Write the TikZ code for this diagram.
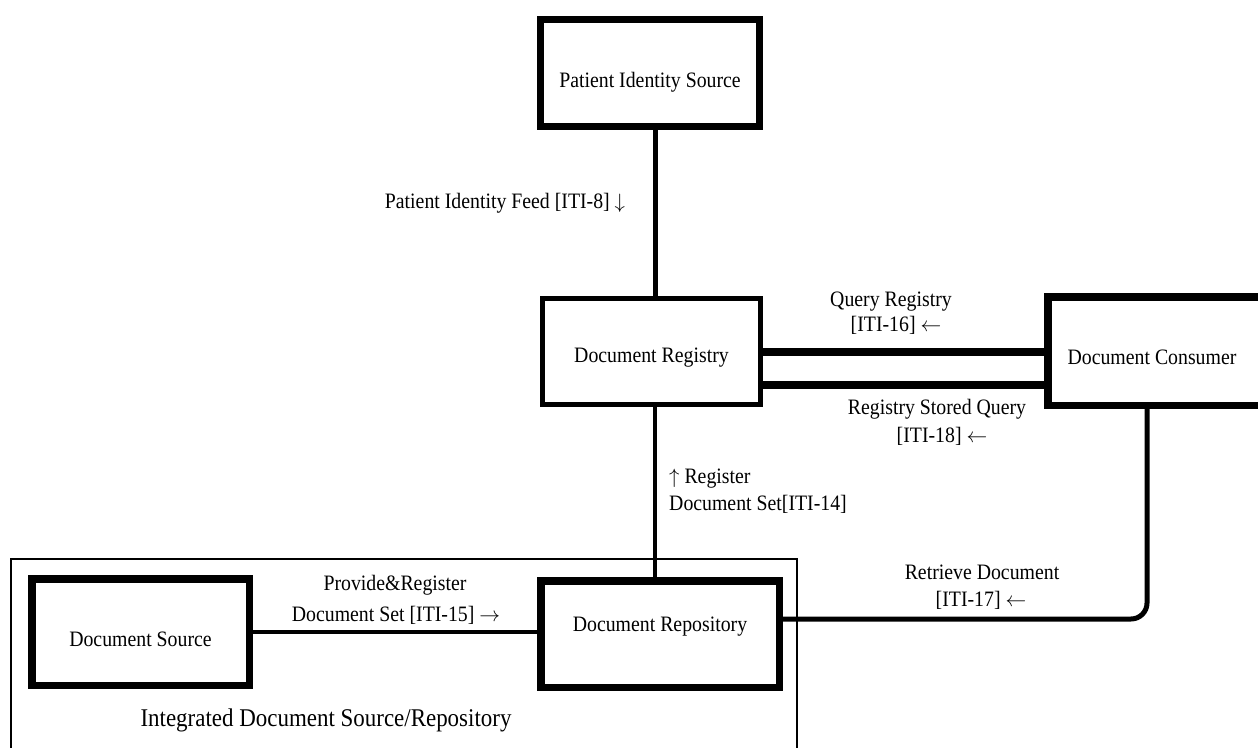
\documentclass[tikz,border=0pt]{standalone}
\usepackage{fontspec}
\setmainfont{Liberation Serif}[FakeStretch=0.9]
\begin{document}
\begin{tikzpicture}[x=1pt,y=-1pt,
  every node/.append style={font=\fontsize{22}{25}\selectfont},
  box/.style={draw, rectangle, inner sep=0pt, line width=7.5pt, text depth=0pt},
  lbl/.style={inner sep=0pt, anchor=base},
  conn/.style={line width=4.5pt, line cap=round}]
\useasboundingbox (0,0) rectangle (1258,747);
\fill[white] (0,0) rectangle (1258,747);

% boxes
\node[box, line width=7pt, minimum width=219pt, minimum height=107pt, text height=28pt] (pis) at (650,73) {Patient Identity Source};
\node[box, line width=5pt, minimum width=218pt, minimum height=106pt, text height=21pt] (reg) at (651.5,351.5) {Document Registry};
\node[box, minimum width=224.5pt, minimum height=108.5pt, text height=27pt] (con) at (1160,351) {Document Consumer\kern16pt\relax};
\node[box, minimum width=217.5pt, minimum height=106.5pt, text height=29pt] (src) at (140.5,632) {Document Source};
\node[box, minimum width=238.5pt, minimum height=106.5pt, text height=15pt, text depth=20pt] (repo) at (660,634) {Document Repository};

% integrated container
\draw[line width=1.5pt] (11,559) rectangle (797,790);
\node[lbl, font=\fontsize{25.5}{28}\selectfont] (intl) at (326,726) {Integrated Document Source/Repository};

% connectors
\draw[conn, line width=5pt] ([xshift=5pt]pis.south) -- ([xshift=5pt]pis.south |- reg.north);
\draw[conn, line width=8pt] (reg.east) -- (reg.east -| con.west);
\draw[conn, line width=8pt] ([yshift=-33pt]reg.east) -- ([yshift=-33pt]reg.east -| con.west);
\draw[conn] ([xshift=3.5pt]reg.south) -- ([xshift=3.5pt]reg.south |- repo.north);
\draw[conn] (src.east) -- (src.east -| repo.west);
\draw[conn, line width=5pt, rounded corners=16pt] ([yshift=15pt]repo.east) -| ([xshift=-13pt]con.south);

% labels
\node[lbl] (feed) at (505,208) {Patient Identity Feed [ITI-8] $\downarrow$};
\node[lbl] (q1) at (891,306) {Query Registry};
\node[lbl] (q2) at (896,331) {[ITI-16] $\leftarrow$};
\node[lbl] (s1) at (937,414) {Registry Stored Query};
\node[lbl] (s2) at (942,442) {[ITI-18] $\leftarrow$};
\node[lbl, anchor=base west] (r1) at (669,483) {$\uparrow$ Register};
\node[lbl, anchor=base west] (r2) at (669,510) {Document Set[ITI-14]};
\node[lbl] (t1) at (982,579) {Retrieve Document};
\node[lbl] (t2) at (981,606) {[ITI-17] $\leftarrow$};
\node[lbl] (p1) at (395,590) {Provide\&Register};
\node[lbl] (p2) at (396,621) {Document Set [ITI-15] $\rightarrow$};
\end{tikzpicture}
\end{document}
